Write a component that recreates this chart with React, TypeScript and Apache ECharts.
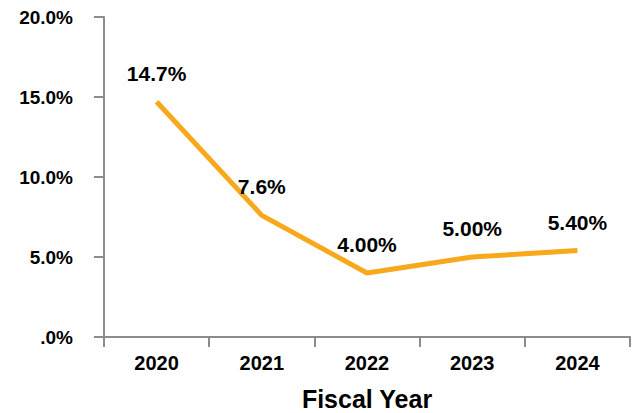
import React, { useEffect, useRef } from "react";
import * as echarts from "echarts";

const years = ["2020", "2021", "2022", "2023", "2024"];
const rates = [14.7, 7.6, 4.0, 5.0, 5.4];
const rateLabels = ["14.7%", "7.6%", "4.00%", "5.00%", "5.40%"];
const yTickLabels: Record<number, string> = { 0: ".0%", 5: "5.0%", 10: "10.0%", 15: "15.0%", 20: "20.0%" };

export default function App() {
  const ref = useRef<HTMLDivElement>(null);
  useEffect(() => {
    if (!ref.current) return;
    const chart = echarts.init(ref.current, null, { renderer: "svg" });
    const font = "'Liberation Sans', Arial, sans-serif";
    chart.setOption({
      animation: false,
      grid: { left: 104, right: 5, top: 17, bottom: 76, containLabel: false, outerBoundsMode: "none" },
      xAxis: {
        type: "category",
        data: years,
        boundaryGap: true,
        name: "Fiscal Year",
        nameLocation: "middle",
        nameGap: 49,
        nameTextStyle: { fontFamily: font, fontWeight: "bold", fontSize: 25, color: "#000" },
        axisLine: { lineStyle: { color: "#8c8c8c", width: 2 } },
        axisTick: { show: true, length: 10, alignWithLabel: false, lineStyle: { color: "#8c8c8c", width: 2 } },
        axisLabel: { fontFamily: font, fontWeight: "bold", fontSize: 20, color: "#000", margin: 16 },
        splitLine: { show: false },
      },
      yAxis: {
        type: "value",
        min: 0,
        max: 20,
        interval: 5,
        axisLine: { show: true, lineStyle: { color: "#8c8c8c", width: 2 } },
        axisTick: { show: true, length: 10, lineStyle: { color: "#8c8c8c", width: 2 } },
        axisLabel: {
          fontFamily: font,
          fontWeight: "bold",
          fontSize: 19,
          color: "#000",
          margin: 31,
          formatter: (v: number) => yTickLabels[v] ?? "",
        },
        splitLine: { show: false },
      },
      series: [
        {
          type: "line",
          data: rates,
          showSymbol: true,
          symbol: "circle",
          symbolSize: 0.1,
          lineStyle: { color: "#F7A81B", width: 5 },
          itemStyle: { color: "#F7A81B" },
          label: {
            show: true,
            position: "top",
            distance: 18,
            fontFamily: font,
            fontWeight: "bold",
            fontSize: 21,
            color: "#000",
            formatter: (p: any) => rateLabels[p.dataIndex],
          },
        },
      ],
    });
    return () => chart.dispose();
  }, []);
  return (
    <div
      ref={ref}
      style={{ position: "absolute", left: 0, top: 0, width: 635, height: 413 }}
    />
  );
}
